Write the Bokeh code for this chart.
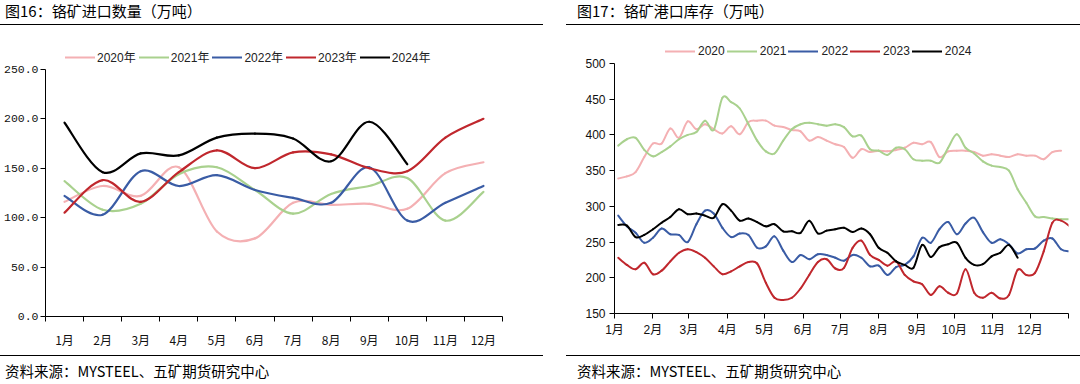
from bokeh.plotting import figure
from bokeh.layouts import row, column
from bokeh.models import (FixedTicker, NumeralTickFormatter, Legend, LegendItem,
                          ColumnDataSource, Range1d, Div)
from bokeh.embed import file_html
from bokeh.resources import INLINE

# ---------------- data: chrome ore imports (10k t), monthly ----------------
months = ["1月", "2月", "3月", "4月", "5月", "6月", "7月", "8月", "9月", "10月", "11月", "12月"]
imp_2020 = [116, 132, 122, 151, 86, 79, 115, 113, 114, 109, 145, 156]
imp_2021 = [137, 108, 114, 144, 151, 128, 104, 124, 132, 140, 97, 126]
imp_2022 = [122, 103, 147, 132, 143, 128, 120, 115, 151, 97, 115, 132]
imp_2023 = [105, 138, 116, 146, 168, 150, 166, 164, 150, 147, 181, 200]
imp_2024 = [196, 146, 165, 163, 181, 185, 180, 157, 197, 154]
imp_labels = ["2020年", "2021年", "2022年", "2023年", "2024年"]
imp_ticks = [0, 50, 100, 150, 200, 250]

# ---------------- data: chrome ore port inventory (10k t), weekly ----------------
inv_2020 = [339, 342, 348, 369, 388, 388, 409, 396, 419, 408, 415, 408, 402,
            412, 401, 418, 420, 420, 413, 411, 407, 405, 392, 397, 392, 387,
            383, 368, 380, 376, 378, 377, 379, 382, 389, 387, 390, 369, 377,
            378, 378, 376, 371, 373, 371, 369, 373, 371, 371, 366, 376, 378]
inv_2021 = [385, 394, 396, 379, 370, 376, 384, 394, 400, 404, 420, 407, 452,
            446, 437, 415, 392, 377, 374, 392, 408, 415, 417, 415, 413, 415,
            411, 398, 399, 380, 378, 372, 382, 380, 366, 364, 364, 361, 382,
            401, 382, 374, 363, 357, 355, 350, 324, 305, 286, 285, 283, 282, 282]
inv_2022 = [287, 272, 263, 249, 256, 269, 261, 260, 250, 275, 294, 290, 270,
            257, 262, 260, 242, 244, 258, 238, 222, 232, 226, 233, 232, 228,
            224, 232, 228, 216, 217, 204, 215, 218, 230, 256, 249, 268, 278,
            261, 276, 284, 264, 249, 254, 247, 234, 240, 241, 252, 255, 240, 237]
inv_2023 = [228, 218, 212, 221, 205, 210, 223, 235, 240, 236, 228, 216, 205,
            209, 216, 222, 220, 193, 172, 169, 172, 185, 204, 222, 226, 213,
            214, 242, 252, 232, 225, 217, 223, 204, 195, 191, 176, 188, 179,
            178, 212, 179, 172, 179, 171, 176, 211, 204, 207, 237, 277, 280, 272]
inv_2024 = [274, 273, 257, 260, 268, 277, 285, 296, 289, 290, 287, 284, 303,
            294, 280, 283, 278, 272, 275, 265, 265, 263, 280, 262, 266, 268,
            270, 264, 269, 261, 242, 235, 223, 218, 214, 246, 229, 243, 247,
            249, 228, 218, 219, 230, 235, 246, 228]
inv_labels = ["2020", "2021", "2022", "2023", "2024"]
inv_ticks = [150, 200, 250, 300, 350, 400, 450, 500]
month_start_days = [0, 31, 60, 91, 121, 152, 182, 213, 244, 274, 305, 335]
year_days = 366
first_week_day = 3
week_days = 7

colors = ["#F4B0B3", "#A9D18E", "#3A5CA5", "#C0272D", "#000000"]

CJK = "Noto Sans CJK SC"
SANS = "Liberation Sans, Noto Sans CJK SC"
MONO = "Liberation Mono"
TITLE_L = "图16：铬矿进口数量（万吨）"
TITLE_R = "图17：铬矿港口库存（万吨）"
SOURCE = "资料来源：MYSTEEL、五矿期货研究中心"


def smooth_source(xs, ys, t=1.0 / 6.0):
    """Bezier control points through the data points (Catmull-Rom style)."""
    n = len(xs)
    d = dict(x0=[], y0=[], x1=[], y1=[], cx0=[], cy0=[], cx1=[], cy1=[])
    for i in range(n - 1):
        xm, ym = (xs[i - 1], ys[i - 1]) if i > 0 else (xs[i], ys[i])
        xp, yp = (xs[i + 2], ys[i + 2]) if i + 2 < n else (xs[i + 1], ys[i + 1])
        d["x0"].append(xs[i]); d["y0"].append(ys[i])
        d["x1"].append(xs[i + 1]); d["y1"].append(ys[i + 1])
        d["cx0"].append(xs[i] + (xs[i + 1] - xm) * t)
        d["cy0"].append(ys[i] + (ys[i + 1] - ym) * t)
        d["cx1"].append(xs[i + 1] - (xp - xs[i]) * t)
        d["cy1"].append(ys[i + 1] - (yp - ys[i]) * t)
    return ColumnDataSource(d)


def style_axes(p):
    p.outline_line_color = None
    p.grid.visible = False
    for ax in (p.xaxis[0], p.yaxis[0]):
        ax.axis_line_color = "#000000"
        ax.axis_line_width = 1
        ax.major_tick_line_color = "#000000"
        ax.minor_tick_line_color = "#000000"
        ax.major_tick_in = 0
        ax.minor_tick_in = 0
        ax.major_label_text_color = "#111111"


def band(width, height, text, size, text_left, text_top, rule_left, rule_width, rule_top):
    html = (
        f'<div style="position:relative;width:{width}px;height:{height}px;overflow:hidden;">'
        f'<div style="position:absolute;left:{text_left}px;top:{text_top}px;'
        f"font-family:'Noto Sans CJK SC',sans-serif;font-size:{size}px;line-height:17px;"
        f'color:#000;white-space:nowrap;">{text}</div>'
        f'<div style="position:absolute;left:{rule_left}px;top:{rule_top}px;width:{rule_width}px;'
        f'height:0;border-top:1.5px solid #000;"></div></div>'
    )
    return Div(text=html, width=width, height=height, margin=0)


W1, W2 = 554, 526
CH = 322          # chart figure height (canvas y 28..350)

# ---------------- left panel ----------------
# frame spans canvas y 28..317; value axis 0..250 drawn over 69..317
l_frame_h, l_axis_h = 317 - 28, 317 - 69
pL = figure(width=W1, height=CH, x_range=Range1d(0, 12),
            y_range=Range1d(0, imp_ticks[-1] * l_frame_h / l_axis_h),
            toolbar_location=None, output_backend="svg",
            min_border_left=45, min_border_right=52, min_border_top=0, min_border_bottom=33)
style_axes(pL)
centers = [i + 0.5 for i in range(len(months))]
rendL = []
for vals, c in zip([imp_2020, imp_2021, imp_2022, imp_2023, imp_2024], colors):
    src = smooth_source(centers[:len(vals)], vals)
    r = pL.bezier(x0="x0", y0="y0", x1="x1", y1="y1", cx0="cx0", cy0="cy0", cx1="cx1", cy1="cy1",
                  source=src, line_color=c, line_width=2.2, line_cap="round")
    rendL.append(r)

pL.xaxis.ticker = FixedTicker(ticks=centers, minor_ticks=list(range(len(months) + 1)))
pL.xaxis.major_label_overrides = {c: m for c, m in zip(centers, months)}
pL.xaxis.major_tick_out = 0
pL.xaxis.minor_tick_out = 5
pL.xaxis.major_label_standoff = 9
pL.xaxis.major_label_text_font = CJK
pL.xaxis.major_label_text_font_size = "12px"
pL.yaxis.ticker = FixedTicker(ticks=imp_ticks)
pL.yaxis.bounds = (imp_ticks[0], imp_ticks[-1])
pL.yaxis.formatter = NumeralTickFormatter(format="0.0")
pL.yaxis.major_tick_out = 5
pL.yaxis.minor_tick_out = 0
pL.yaxis.major_label_standoff = 2
pL.yaxis.major_label_text_font = MONO
pL.yaxis.major_label_text_font_size = "11.5px"

legL = Legend(items=[LegendItem(label=l, renderers=[r]) for l, r in zip(imp_labels, rendL)],
              orientation="horizontal", location=(20, 317 - 66), glyph_width=30, glyph_height=14,
              label_height=14, label_standoff=2, spacing=3, padding=0, margin=0,
              border_line_color=None, background_fill_alpha=0,
              label_text_font=SANS, label_text_font_size="12px", label_text_color="#222222")
pL.add_layout(legL)

tL = band(W1, 28, TITLE_L, 15, 5, 2, 0, 543, 24)
fL = band(W1, 34, SOURCE, 14.5, 5, 12, 0, 543, 5)

# ---------------- right panel ----------------
# frame spans canvas y 28..313; value axis 150..500 drawn over 63..313
r_frame_h, r_axis_h = 313 - 28, 313 - 63
r_span = inv_ticks[-1] - inv_ticks[0]
pR = figure(width=W2, height=CH, x_range=Range1d(0, year_days),
            y_range=Range1d(inv_ticks[0], inv_ticks[0] + r_span * r_frame_h / r_axis_h),
            toolbar_location=None, output_backend="svg",
            min_border_left=60, min_border_right=12, min_border_top=0, min_border_bottom=37)
style_axes(pR)
rendR = []
for vals, c in zip([inv_2020, inv_2021, inv_2022, inv_2023, inv_2024], colors):
    xs = [first_week_day + week_days * i for i in range(len(vals))]
    src = smooth_source(xs, vals)
    r = pR.bezier(x0="x0", y0="y0", x1="x1", y1="y1", cx0="cx0", cy0="cy0", cx1="cx1", cy1="cy1",
                  source=src, line_color=c, line_width=2, line_cap="round")
    rendR.append(r)

pR.xaxis.ticker = FixedTicker(ticks=month_start_days + [year_days])
overrides = {d: m for d, m in zip(month_start_days, months)}
overrides[year_days] = ""
pR.xaxis.major_label_overrides = overrides
pR.xaxis.major_tick_out = 5
pR.xaxis.minor_tick_out = 0
pR.xaxis.major_label_standoff = 4
pR.xaxis.major_label_text_font = SANS
pR.xaxis.major_label_text_font_size = "12px"
pR.yaxis.ticker = FixedTicker(ticks=inv_ticks)
pR.yaxis.bounds = (inv_ticks[0], inv_ticks[-1])
pR.yaxis.major_tick_out = 5
pR.yaxis.minor_tick_out = 0
pR.yaxis.major_label_standoff = 4
pR.yaxis.major_label_text_font = SANS
pR.yaxis.major_label_text_font_size = "12px"

legR = Legend(items=[LegendItem(label=l, renderers=[r]) for l, r in zip(inv_labels, rendR)],
              orientation="horizontal", location=(51, 313 - 58), glyph_width=30, glyph_height=14,
              label_height=14, label_standoff=3, spacing=2, padding=0, margin=0,
              border_line_color=None, background_fill_alpha=0,
              label_text_font=SANS, label_text_font_size="12px", label_text_color="#222222")
pR.add_layout(legR)

tR = band(W2, 28, TITLE_R, 15, 23, 2, 12, 514, 24)
fR = band(W2, 34, SOURCE, 14.5, 23, 12, 12, 514, 5)

layout = row(column(tL, pL, fL), column(tR, pR, fR))
open("out.html", "w").write(file_html(layout, INLINE))
